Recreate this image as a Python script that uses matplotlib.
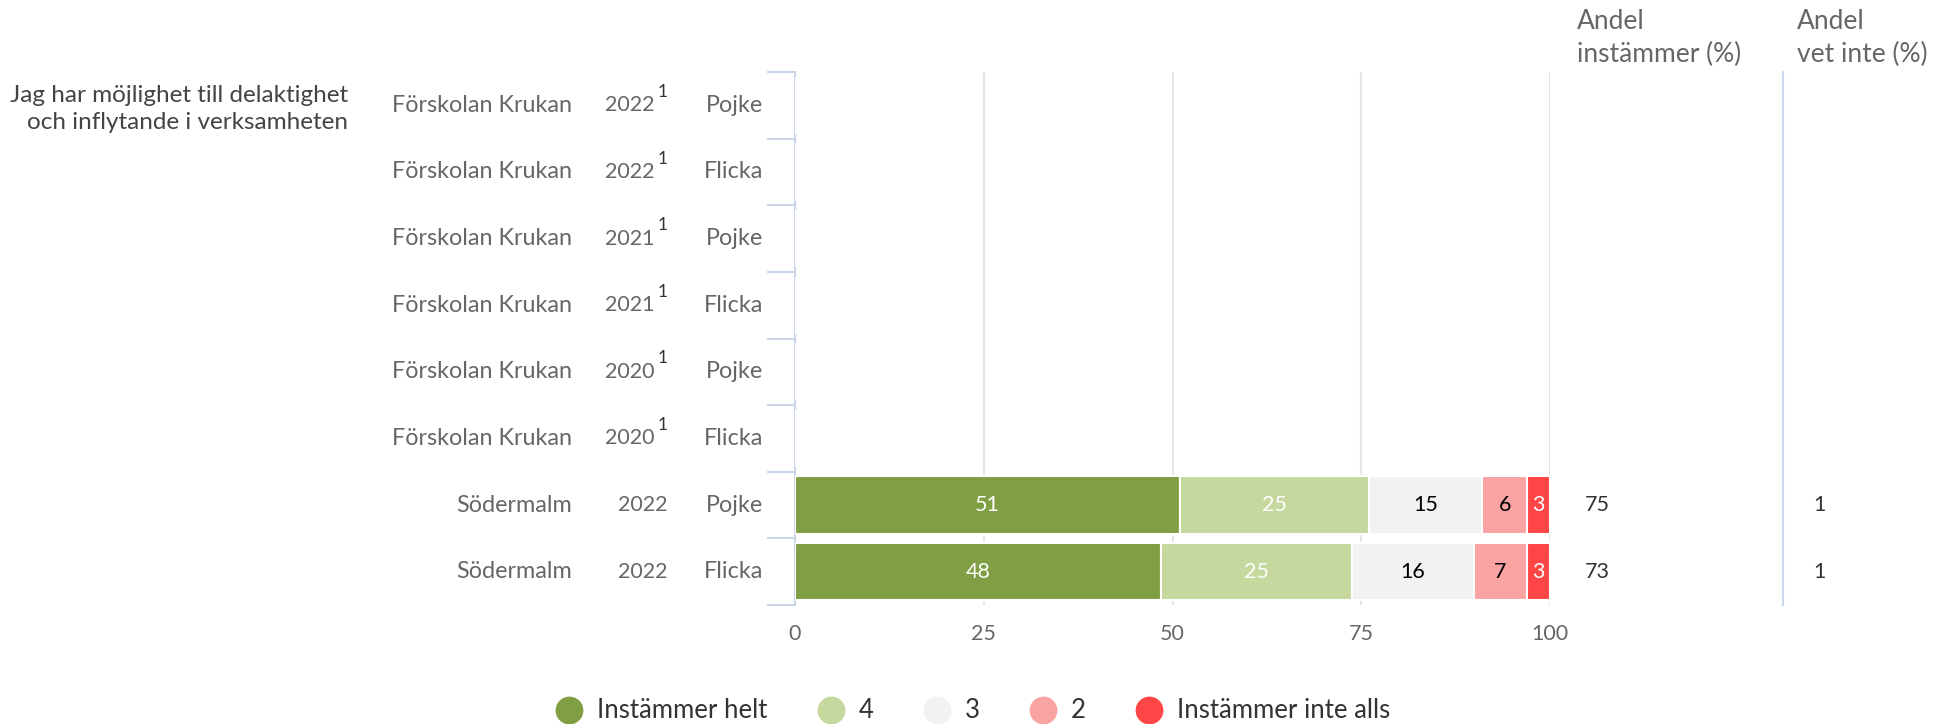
import numpy as np
import matplotlib.pyplot as plt
from matplotlib.lines import Line2D
from matplotlib.transforms import blended_transform_factory

plt.rcParams['font.family'] = ['Lato', 'DejaVu Sans']

# data
question = "Jag har möjlighet till delaktighet\noch inflytande i verksamheten"
units = ["Förskolan Krukan"] * 6 + ["Södermalm"] * 2
years = ["2022", "2022", "2021", "2021", "2020", "2020", "2022", "2022"]
notes = ["1", "1", "1", "1", "1", "1", "", ""]
genders = ["Pojke", "Flicka"] * 4

series_names = ["Instämmer helt", "4", "3", "2", "Instämmer inte alls"]
helt = [np.nan] * 6 + [51, 48]
fyra = [np.nan] * 6 + [25, 25]
tre = [np.nan] * 6 + [15, 16]
tva = [np.nan] * 6 + [6, 7]
inte = [np.nan] * 6 + [3, 3]
andel_instammer = ["", "", "", "", "", "", "75", "73"]
andel_vet_inte = ["", "", "", "", "", "", "1", "1"]

colors = ["#809e43", "#c5d89d", "#f2f2f2", "#f9a3a3", "#ff4545"]
label_colors = ["white", "white", "black", "black", "white"]

W, H = 1944, 724
fig = plt.figure(figsize=(W / 100, H / 100), dpi=100)
ax = fig.add_axes([795 / W, 1 - 605 / H, (1550 - 795) / W, (605 - 72) / H])

data = np.array([helt, fyra, tre, tva, inte], dtype=float)
totals = np.nansum(data, axis=0)
totals[totals == 0] = 1
pct = data / totals * 100
rows = np.arange(len(units))

left = np.zeros(len(units))
for k in range(len(series_names)):
    vals = np.nan_to_num(pct[k])
    ax.barh(rows, vals, left=left, height=0.86, color=colors[k],
            edgecolor="white", linewidth=1.5, zorder=3)
    for i in rows:
        if not np.isnan(data[k][i]):
            ax.text(left[i] + vals[i] / 2, i, "%d" % data[k][i], ha="center", va="center",
                    fontsize=15.5, color=label_colors[k], zorder=4)
    left = left + vals

ax.set_xlim(0, 100)
ax.set_ylim(len(units) - 0.5, -0.5)
ax.set_xticks([0, 25, 50, 75, 100])
ax.tick_params(axis="x", length=0, labelsize=15.5, labelcolor="#666666", pad=14)
ax.set_yticks(np.arange(-0.5, len(units), 1))
ax.set_yticklabels([])
ax.tick_params(axis="y", length=20, color="#ccd6eb", width=1.5)
ax.grid(axis="x", color="#e6e6e6", linewidth=1.5, zorder=0)
for s in ["top", "right", "bottom"]:
    ax.spines[s].set_visible(False)
ax.spines["left"].set_color("#ccd6eb")
ax.spines["left"].set_linewidth(1.5)

# row labels
tr = blended_transform_factory(fig.transFigure, ax.transData)
for i in rows:
    ax.text(572 / W, i, units[i], transform=tr, ha="right", va="center",
            fontsize=16.8, color="#666666")
    if notes[i]:
        ax.text(655 / W, i, years[i], transform=tr, ha="right", va="center",
                fontsize=15.5, color="#666666")
        ax.text(658 / W, i - 0.2, notes[i], transform=tr, ha="left", va="center",
                fontsize=12.5, color="#333333")
    else:
        ax.text(667 / W, i, years[i], transform=tr, ha="right", va="center",
                fontsize=15.5, color="#666666")
    ax.text(763 / W, i, genders[i], transform=tr, ha="right", va="center",
            fontsize=16.8, color="#666666")
    ax.text(1585 / W, i, andel_instammer[i], transform=tr, ha="left", va="center",
            fontsize=15.5, color="#333333")
    ax.text(1819 / W, i, andel_vet_inte[i], transform=tr, ha="center", va="center",
            fontsize=15.5, color="#333333")

fig.text(348 / W, 1 - 109 / H, question, ha="right", va="center",
         fontsize=17.5, color="#444444", linespacing=1.4)

fig.text(1577 / W, 1 - 9 / H, "Andel\ninstämmer (%)", ha="left", va="top",
         fontsize=19, color="#666666", linespacing=1.4)
fig.text(1797 / W, 1 - 9 / H, "Andel\nvet inte (%)", ha="left", va="top",
         fontsize=19, color="#666666", linespacing=1.4)

# separator line before "vet inte" column
fig.add_artist(Line2D([1783 / W, 1783 / W], [1 - 72 / H, 1 - 605 / H],
                      color="#ccd6eb", linewidth=1.5, transform=fig.transFigure))

handles = [Line2D([], [], marker="o", linestyle="", markersize=19,
                  markerfacecolor=c, markeredgecolor=c) for c in colors]
fig.legend(handles, series_names, loc="center", bbox_to_anchor=(0.5, 1 - 711 / H),
           ncol=5, frameon=False, fontsize=18.5, labelcolor="#333333",
           handlelength=1.2, handletextpad=0.5, columnspacing=1.85)

fig.savefig("out.png", dpi=100)
